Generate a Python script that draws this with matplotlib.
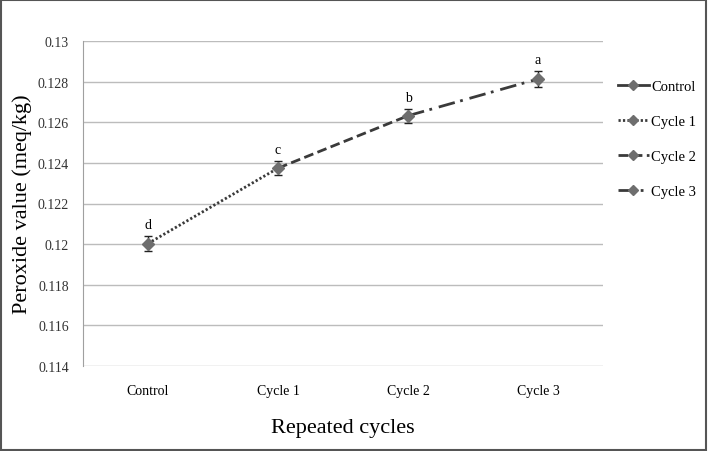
import matplotlib.pyplot as plt
from matplotlib.lines import Line2D
from matplotlib.patches import Rectangle

plt.rcParams['font.family'] = ['Liberation Serif', 'DejaVu Serif']

### DATA
cycles = ["Control", "Cycle 1", "Cycle 2", "Cycle 3"]
peroxide = [0.12003, 0.12374, 0.12632, 0.12813]
err = [0.00035, 0.00035, 0.00035, 0.00038]
letters = ["d", "c", "b", "a"]
yticks = [0.114, 0.116, 0.118, 0.12, 0.122, 0.124, 0.126, 0.128, 0.13]
ytick_labels = ["0.114", "0.116", "0.118", "0.12", "0.122", "0.124", "0.126", "0.128", "0.13"]

line_col = '#3a3a3a'
mark_col = '#6e6e6e'
styles = ['-', (0, (0.8, 0.8)), (0, (3.5, 1.6)), (0, (6, 2, 1, 2.5))]

### PLOTTING
fig = plt.figure(figsize=(7.09, 4.52), dpi=100)
ax = fig.add_axes([83 / 709, 1 - 367 / 452, 520 / 709, 325 / 452])

x = [i + 0.5 for i in range(len(cycles))]

# segments between consecutive points, each with the style of the later cycle
for i in range(1, len(x)):
    ax.plot(x[i - 1:i + 1], peroxide[i - 1:i + 1], color=line_col, lw=2,
            linestyle=styles[i], zorder=2)

ax.errorbar(x, peroxide, yerr=err, fmt='none', ecolor='#222222', elinewidth=1,
            capsize=3, capthick=1, zorder=3)
ax.plot(x, peroxide, 'D', color=mark_col, ms=6, zorder=4, linestyle='none')

for xi, yi, e, lab in zip(x, peroxide, err, letters):
    ax.text(xi, yi + e + 0.00025, lab, ha='center', va='bottom', fontsize=10)

ax.set_xlim(0, 4)
ax.set_ylim(0.114, 0.13)
ax.set_xticks(x)
ax.set_xticklabels(cycles, fontsize=10)
ax.set_yticks(yticks)
ax.set_yticklabels(ytick_labels, fontsize=10, color='#333333')
ax.tick_params(axis='y', length=0, pad=10)
ax.tick_params(axis='x', length=0, pad=13)
ax.grid(axis='y', color='#bcbcbc', lw=1)
ax.set_axisbelow(True)
for s in ['top', 'right', 'bottom']:
    ax.spines[s].set_visible(False)
ax.spines['left'].set_color('#a0a0a0')

ax.set_xlabel("Repeated cycles", fontsize=16)
ax.set_ylabel("Peroxide value (meq/kg)", fontsize=16)
ax.xaxis.set_label_coords(0.5, -0.16)
ax.yaxis.set_label_coords(-0.098, 0.5)

handles = [Line2D([0], [0], color=line_col, lw=2, linestyle=st, marker='D',
                  markerfacecolor=mark_col, markeredgecolor=mark_col, ms=5)
           for st in styles]
fig.legend(handles, cycles, loc='upper left', bbox_to_anchor=(605 / 709, 1 - 68 / 452),
           frameon=False, fontsize=10.5, handlelength=2.1, labelspacing=1.49,
           handletextpad=0.15)

fig.patches.append(Rectangle((0.002, 0.003), 0.994, 0.994, transform=fig.transFigure,
                             fill=False, edgecolor='#555555', lw=1.5))

fig.savefig("out.png", dpi=100)
